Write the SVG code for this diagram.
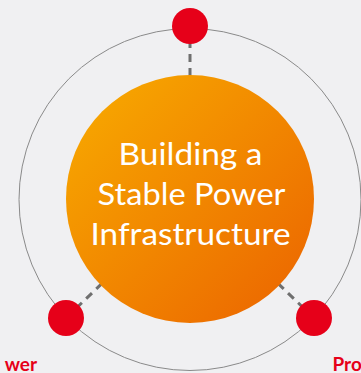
<svg xmlns="http://www.w3.org/2000/svg" width="361" height="373" viewBox="0 0 361 373">
<defs>
<linearGradient id="og" x1="0" y1="0" x2="1" y2="1">
<stop offset="0" stop-color="#F8AD00"/>
<stop offset="1" stop-color="#EB6200"/>
</linearGradient>
<style>
.ring{fill:none;stroke:#8a8a8a;stroke-width:1}
.conn{stroke:#6f6f6f;stroke-width:3;stroke-dasharray:8 6;fill:none}
.dot{fill:#E60019}
.title{font-family:Lato,"Liberation Sans",sans-serif;font-size:31px;fill:#fff;text-anchor:middle}
.lbl{font-family:Lato,"Liberation Sans",sans-serif;font-size:19px;font-weight:bold;fill:#E60019}
</style>
</defs>
<rect width="361" height="373" fill="#F0F0F2"/>
<circle class="ring" cx="190" cy="199.5" r="171"/>
<g id="connectors">
<line class="conn" x1="190" y1="26" x2="190" y2="199"/>
<line class="conn" x1="66" y1="318" x2="190" y2="199"/>
<line class="conn" x1="314" y1="318" x2="190" y2="199"/>
</g>
<g id="center">
<circle cx="190" cy="199" r="124" fill="url(#og)"/>
<text class="title" x="190.5" y="165" textLength="144" lengthAdjust="spacingAndGlyphs">Building a</text>
<text class="title" x="191.5" y="205" textLength="188" lengthAdjust="spacingAndGlyphs">Stable Power</text>
<text class="title" x="190.5" y="245" textLength="200" lengthAdjust="spacingAndGlyphs">Infrastructure</text>
</g>
<g id="node-top"><circle class="dot" cx="190" cy="26" r="18"/></g>
<g id="node-left"><circle class="dot" cx="66" cy="318" r="18"/><text class="lbl" x="37" y="371" text-anchor="end">wer</text></g>
<g id="node-right"><circle class="dot" cx="314" cy="318" r="18"/><text class="lbl" x="332.5" y="371">Pro</text></g>
</svg>
